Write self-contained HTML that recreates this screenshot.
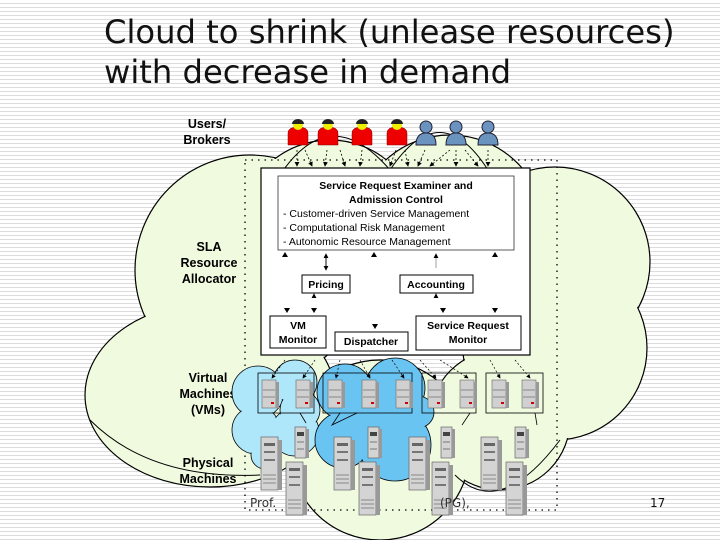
<!DOCTYPE html>
<html><head><meta charset="utf-8"><style>
html,body{margin:0;padding:0}
body{width:720px;height:540px;overflow:hidden;position:relative;
background:repeating-linear-gradient(to bottom,#fff 0,#fff 3px,#dcdcdc 3px,#dcdcdc 4px);}
.t{position:absolute;left:104px;font-family:"DejaVu Sans","Liberation Sans",sans-serif;font-size:32.2px;color:#111;line-height:40px;white-space:nowrap}
svg{position:absolute;left:0;top:0}
</style></head><body>
<div class="t" style="top:12px">Cloud to shrink (unlease resources)</div>
<div class="t" style="top:52px">with decrease in demand</div>
<svg width="720" height="540" viewBox="0 0 720 540" font-family="Liberation Sans, Arial, sans-serif">
<defs>
<g id="vm"><rect x="0" y="0" width="14" height="28" fill="#d0d0d0" stroke="#777" stroke-width="0.7"/><rect x="14" y="2" width="3" height="26" fill="#999"/><line x1="1" y1="10" x2="13" y2="10" stroke="#888"/><line x1="1" y1="17" x2="13" y2="17" stroke="#888"/><rect x="9" y="22" width="3" height="2" fill="#c00"/></g>
<g id="pb"><rect x="0" y="0" width="17" height="53" fill="#d4d4d4" stroke="#666" stroke-width="0.7"/><rect x="17" y="3" width="4" height="50" fill="#999"/><rect x="3" y="6" width="11" height="3" fill="#666"/><rect x="3" y="14" width="11" height="2" fill="#777"/><rect x="3" y="22" width="11" height="2" fill="#777"/><line x1="2" y1="38" x2="15" y2="38" stroke="#888"/><line x1="2" y1="42" x2="15" y2="42" stroke="#888"/><line x1="2" y1="46" x2="15" y2="46" stroke="#888"/></g>
<g id="ps"><rect x="0" y="0" width="11" height="31" fill="#d4d4d4" stroke="#666" stroke-width="0.7"/><rect x="11" y="2" width="3" height="29" fill="#999"/><rect x="2" y="5" width="7" height="4" fill="#444"/><line x1="2" y1="15" x2="9" y2="15" stroke="#777"/><line x1="2" y1="22" x2="9" y2="22" stroke="#777"/></g>
<marker id="a" markerWidth="6" markerHeight="6" refX="5" refY="3" orient="auto"><path d="M0,0L6,3L0,6z" fill="#000"/></marker>
</defs>
<g fill="#f0fadf" stroke="#000" stroke-width="1.2">
<circle cx="250" cy="270" r="115"/><circle cx="330" cy="230" r="90"/><circle cx="450" cy="230" r="95"/>
<circle cx="555" cy="262" r="95"/><circle cx="555" cy="348" r="92"/><ellipse cx="210" cy="395" rx="125" ry="92"/>
<circle cx="380" cy="450" r="90"/><circle cx="500" cy="420" r="70"/>
</g>
<g fill="#f0fadf">
<circle cx="250" cy="270" r="114"/><circle cx="330" cy="230" r="89"/><circle cx="450" cy="230" r="94"/>
<circle cx="555" cy="262" r="94"/><circle cx="555" cy="348" r="91"/><ellipse cx="210" cy="395" rx="124" ry="91"/>
<circle cx="380" cy="450" r="89"/><circle cx="500" cy="420" r="69"/>
</g>
<g fill="none" stroke="#000" stroke-width="1">
<path d="M280 175 Q330 100 390 170"/><path d="M390 170 Q440 95 488 170"/><path d="M455 475 Q500 520 560 440"/><path d="M90 420 Q150 480 260 475"/>
</g>
<g>
<g fill="#e00" stroke="#800" stroke-width="0.5">
<path d="M288 145 v-12 q0 -6 10 -6 q10 0 10 6 v12z"/><path d="M318 145 v-12 q0 -6 10 -6 q10 0 10 6 v12z"/><path d="M352 145 v-12 q0 -6 10 -6 q10 0 10 6 v12z"/><path d="M387 145 v-12 q0 -6 10 -6 q10 0 10 6 v12z"/>
</g>
<g fill="#ee0"><circle cx="298" cy="125" r="5"/><circle cx="328" cy="125" r="5"/><circle cx="362" cy="125" r="5"/><circle cx="397" cy="125" r="5"/></g>
<g fill="#222"><path d="M292 124 a6 5 0 0 1 12 0z"/><path d="M322 124 a6 5 0 0 1 12 0z"/><path d="M356 124 a6 5 0 0 1 12 0z"/><path d="M391 124 a6 5 0 0 1 12 0z"/></g>
<g fill="#6b93c0" stroke="#223" stroke-width="1">
<path d="M416 145 q0 -12 10 -12 q10 0 10 12z"/><circle cx="426" cy="127" r="6"/>
<path d="M446 145 q0 -12 10 -12 q10 0 10 12z"/><circle cx="456" cy="127" r="6"/>
<path d="M478 145 q0 -12 10 -12 q10 0 10 12z"/><circle cx="488" cy="127" r="6"/>
</g>
</g>
<g font-weight="bold" font-size="12.5" text-anchor="middle" fill="#000">
<text x="207" y="128">Users/</text><text x="207" y="144">Brokers</text>
<text x="209" y="251">SLA</text><text x="209" y="267">Resource</text><text x="209" y="283">Allocator</text>
<text x="208" y="382">Virtual</text><text x="208" y="398">Machines</text><text x="208" y="414">(VMs)</text>
<text x="208" y="467">Physical</text><text x="208" y="483">Machines</text>
</g>
<rect x="245" y="160" width="312" height="350" fill="none" stroke="#000" stroke-dasharray="1.5 5" stroke-width="1.3"/>
<g stroke="#000" stroke-width="0.8" stroke-dasharray="2 2" marker-end="url(#a)" fill="none">
<line x1="297" y1="150" x2="297" y2="166"/><line x1="305" y1="150" x2="312" y2="166"/><line x1="327" y1="150" x2="325" y2="166"/><line x1="340" y1="150" x2="345" y2="166"/>
<line x1="362" y1="150" x2="360" y2="166"/><line x1="396" y1="150" x2="390" y2="166"/><line x1="405" y1="150" x2="408" y2="166"/>
<line x1="425" y1="150" x2="418" y2="166"/><line x1="450" y1="150" x2="430" y2="166"/><line x1="456" y1="150" x2="456" y2="166"/><line x1="465" y1="150" x2="478" y2="166"/><line x1="488" y1="150" x2="488" y2="166"/>
</g>
<rect x="261" y="168" width="269" height="187" fill="#fff" stroke="#000" stroke-width="1.2"/>
<rect x="278" y="176" width="236" height="74" fill="#fff" stroke="#333" stroke-width="0.8"/>
<g font-size="10.5" fill="#000">
<text x="396" y="189" text-anchor="middle" font-weight="bold">Service Request Examiner and</text>
<text x="396" y="203" text-anchor="middle" font-weight="bold">Admission Control</text>
<text x="283" y="217">- Customer-driven Service Management</text>
<text x="283" y="231">- Computational Risk Management</text>
<text x="283" y="245">- Autonomic Resource Management</text>
</g>
<g fill="#fff" stroke="#000" stroke-width="1">
<rect x="302" y="275" width="48" height="18"/><rect x="400" y="275" width="73" height="18"/>
<rect x="270" y="316" width="56" height="32"/><rect x="335" y="332" width="73" height="19"/><rect x="416" y="316" width="105" height="34"/>
</g>
<g font-size="10.5" font-weight="bold" text-anchor="middle">
<text x="326" y="288">Pricing</text><text x="436" y="288">Accounting</text>
<text x="298" y="329">VM</text><text x="298" y="343">Monitor</text><text x="371" y="345">Dispatcher</text>
<text x="468" y="329">Service Request</text><text x="468" y="343">Monitor</text>
</g>
<g stroke="#000" stroke-width="0.8" fill="none">
<line x1="326" y1="256" x2="326" y2="270" marker-end="url(#a)"/><line x1="326" y1="268" x2="326" y2="254" marker-end="url(#a)"/>
<line x1="436" y1="268" x2="436" y2="254" marker-end="url(#a)" stroke="#888"/>
<line x1="314" y1="298" x2="314" y2="294" marker-end="url(#a)"/>
<line x1="436" y1="298" x2="436" y2="294" marker-end="url(#a)"/>
</g>
<g fill="#000">
<path d="M285 252l3 5h-6z"/><path d="M374 252l3 5h-6z"/><path d="M495 252l3 5h-6z"/>
<path d="M287 313l3-5h-6z"/><path d="M314 313l3-5h-6z"/><path d="M443 313l3-5h-6z"/><path d="M495 313l3-5h-6z"/><path d="M375 329l3-5h-6z"/>
</g>
<g stroke="#000" stroke-width="0.8" fill="#aee6fa">
<circle cx="258" cy="392" r="26"/><circle cx="295" cy="382" r="22"/><circle cx="256" cy="430" r="24"/><circle cx="295" cy="432" r="24"/><circle cx="265" cy="455" r="14"/><circle cx="300" cy="410" r="20"/>
</g>
<g fill="#aee6fa"><circle cx="258" cy="392" r="25"/><circle cx="295" cy="382" r="21"/><circle cx="256" cy="430" r="23"/><circle cx="295" cy="432" r="23"/><circle cx="265" cy="455" r="13"/><circle cx="300" cy="410" r="19"/></g>
<g stroke="#000" stroke-width="0.8" fill="#6ac4f2">
<circle cx="345" cy="392" r="28"/><circle cx="395" cy="388" r="30"/><circle cx="343" cy="440" r="28"/><circle cx="395" cy="445" r="36"/><circle cx="418" cy="412" r="16"/><circle cx="370" cy="415" r="30"/>
</g>
<g fill="#6ac4f2"><circle cx="345" cy="392" r="27"/><circle cx="395" cy="388" r="29"/><circle cx="343" cy="440" r="27"/><circle cx="395" cy="445" r="35"/><circle cx="418" cy="412" r="15"/><circle cx="370" cy="415" r="29"/></g>
<g fill="none" stroke="#000" stroke-width="0.8"><rect x="258" y="373" width="56" height="40"/><rect x="323" y="373" width="89" height="40"/><rect x="422" y="373" width="54" height="40"/><rect x="486" y="373" width="57" height="40"/></g>
<g fill="none" stroke="#000" stroke-width="0.8"><path d="M300 413l6 10"/><path d="M340 413l-8 12 25-12"/><path d="M470 413l-8 12"/><path d="M535 413l2 12"/></g>
<use href="#vm" x="262" y="380"/><use href="#vm" x="296" y="380"/><use href="#vm" x="328" y="380"/><use href="#vm" x="362" y="380"/><use href="#vm" x="396" y="380"/><use href="#vm" x="428" y="380"/><use href="#vm" x="460" y="380"/><use href="#vm" x="492" y="380"/><use href="#vm" x="522" y="380"/>
<g stroke="#000" stroke-width="0.7" stroke-dasharray="2 2" fill="none" marker-end="url(#a)">
<line x1="285" y1="360" x2="272" y2="378"/><line x1="315" y1="360" x2="303" y2="378"/><line x1="340" y1="360" x2="336" y2="378"/><line x1="360" y1="360" x2="370" y2="378"/><line x1="392" y1="360" x2="404" y2="378"/>
<line x1="420" y1="360" x2="436" y2="378"/><line x1="440" y1="360" x2="468" y2="378"/><line x1="490" y1="360" x2="500" y2="378"/><line x1="515" y1="360" x2="530" y2="378"/>
</g>
<use href="#pb" x="261" y="437"/><use href="#ps" x="295" y="427"/><use href="#pb" x="286" y="462"/>
<use href="#pb" x="334" y="437"/><use href="#ps" x="368" y="427"/><use href="#pb" x="359" y="462"/>
<use href="#pb" x="409" y="437"/><use href="#ps" x="441" y="427"/><use href="#pb" x="432" y="462"/>
<use href="#pb" x="481" y="437"/><use href="#ps" x="515" y="427"/><use href="#pb" x="506" y="462"/>
<text x="250" y="507" font-size="12" fill="#333" font-family="DejaVu Sans, sans-serif">Prof.</text>
<text x="440" y="507" font-size="12" fill="#333" font-family="DejaVu Sans, sans-serif">(PG),</text>
<text x="650" y="507" font-size="12" fill="#111" font-family="DejaVu Sans, sans-serif">17</text>
</svg>
</body></html>
